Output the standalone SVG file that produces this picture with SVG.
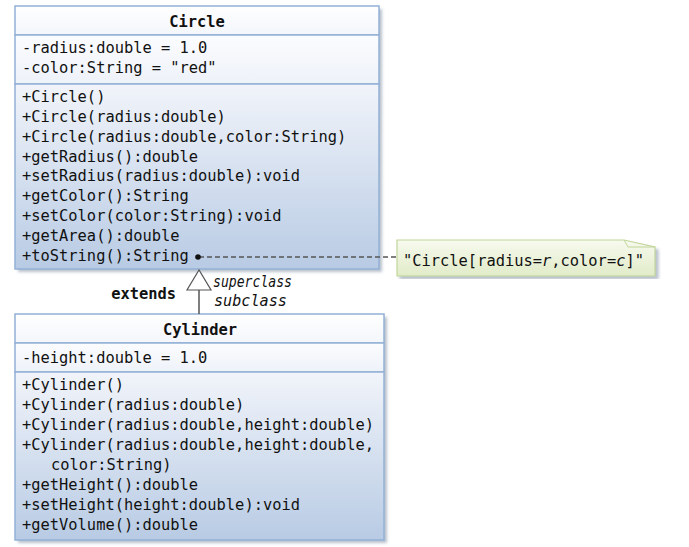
<svg xmlns="http://www.w3.org/2000/svg" width="689" height="547" viewBox="0 0 689 547">
<defs>
<linearGradient id="gTitle" x1="0" y1="0" x2="0" y2="1"><stop offset="0" stop-color="#ffffff"/><stop offset="1" stop-color="#f3f6fb"/></linearGradient>
<linearGradient id="gAttr" x1="0" y1="0" x2="0" y2="1"><stop offset="0" stop-color="#fbfcfe"/><stop offset="1" stop-color="#eef2f9"/></linearGradient>
<linearGradient id="gMeth" x1="0" y1="0" x2="0" y2="1"><stop offset="0" stop-color="#f1f4fa"/><stop offset="1" stop-color="#b8cbe4"/></linearGradient>
<linearGradient id="gNote" x1="0" y1="0" x2="0" y2="1"><stop offset="0" stop-color="#f7faef"/><stop offset="1" stop-color="#e1ebc8"/></linearGradient>
<filter id="sh" x="-5%" y="-5%" width="112%" height="112%"><feDropShadow dx="3" dy="3" stdDeviation="1.5" flood-color="#7f8ea3" flood-opacity="0.55"/></filter>
</defs>
<style>
.t{font-family:"DejaVu Sans Mono","Liberation Mono",monospace;font-size:15.4px;fill:#111}
.b{font-weight:bold;text-anchor:middle}
.i{font-style:italic}
.lbl{font-size:15px}
.box{stroke:#93b1d6;stroke-width:1.5}
.conn{stroke:#555;stroke-width:1.5;fill:none}
</style>
<g id="Circle">
<g filter="url(#sh)">
<rect x="15" y="6" width="364" height="263" fill="#ffffff"/>
</g>
<rect class="box" x="15" y="6" width="364" height="29" fill="url(#gTitle)"/>
<rect class="box" x="15" y="35" width="364" height="49" fill="url(#gAttr)"/>
<rect class="box" x="15" y="84" width="364" height="185" fill="url(#gMeth)"/>
<text class="t b" x="197" y="27">Circle</text>
<text class="t" x="22" y="53">-radius:double = 1.0</text>
<text class="t" x="22" y="73">-color:String = "red"</text>
<text class="t" x="22" y="102">+Circle()</text>
<text class="t" x="22" y="122">+Circle(radius:double)</text>
<text class="t" x="22" y="142">+Circle(radius:double,color:String)</text>
<text class="t" x="22" y="162">+getRadius():double</text>
<text class="t" x="22" y="181">+setRadius(radius:double):void</text>
<text class="t" x="22" y="201">+getColor():String</text>
<text class="t" x="22" y="221">+setColor(color:String):void</text>
<text class="t" x="22" y="241">+getArea():double</text>
<text class="t" x="22" y="261">+toString():String</text>
</g>
<g id="Cylinder">
<g filter="url(#sh)">
<rect x="15" y="314" width="369" height="226" fill="#ffffff"/>
</g>
<rect class="box" x="15" y="314" width="369" height="29" fill="url(#gTitle)"/>
<rect class="box" x="15" y="343" width="369" height="29" fill="url(#gAttr)"/>
<rect class="box" x="15" y="372" width="369" height="168" fill="url(#gMeth)"/>
<text class="t b" x="200" y="335">Cylinder</text>
<text class="t" x="22" y="363">-height:double = 1.0</text>
<text class="t" x="22" y="390">+Cylinder()</text>
<text class="t" x="22" y="410">+Cylinder(radius:double)</text>
<text class="t" x="22" y="430">+Cylinder(radius:double,height:double)</text>
<text class="t" x="22" y="450">+Cylinder(radius:double,height:double,</text>
<text class="t" x="51" y="470">color:String)</text>
<text class="t" x="22" y="490">+getHeight():double</text>
<text class="t" x="22" y="510">+setHeight(height:double):void</text>
<text class="t" x="22" y="530">+getVolume():double</text>
</g>
<g id="Note">
<g filter="url(#sh)">
<path d="M397,240 H624 L655,247 V276 H397 Z" fill="url(#gNote)" stroke="#c2d59a" stroke-width="1.2"/>
</g>
<path d="M624,240 L628,247 H655" fill="none" stroke="#c2d59a" stroke-width="1"/>
<text class="t" x="403" y="266">"Circle[radius=<tspan class="i">r</tspan>,color=<tspan class="i">c</tspan>]"</text>
</g>
<g id="connectors">
<line class="conn" x1="199" y1="257" x2="397" y2="257" stroke-dasharray="5,3"/>
<circle cx="198" cy="257" r="2.8" fill="#111"/>
<line class="conn" x1="199" y1="290" x2="199" y2="314"/>
<polygon points="199,270 187,290 211,290" fill="#ffffff" stroke="#555" stroke-width="1.2"/>
<text class="t" x="176" y="299" font-weight="bold" text-anchor="end">extends</text>
<text class="t i lbl" x="213" y="287" textLength="79" lengthAdjust="spacingAndGlyphs">superclass</text>
<text class="t i lbl" x="214" y="306" textLength="73" lengthAdjust="spacingAndGlyphs">subclass</text>
</g>
</svg>
